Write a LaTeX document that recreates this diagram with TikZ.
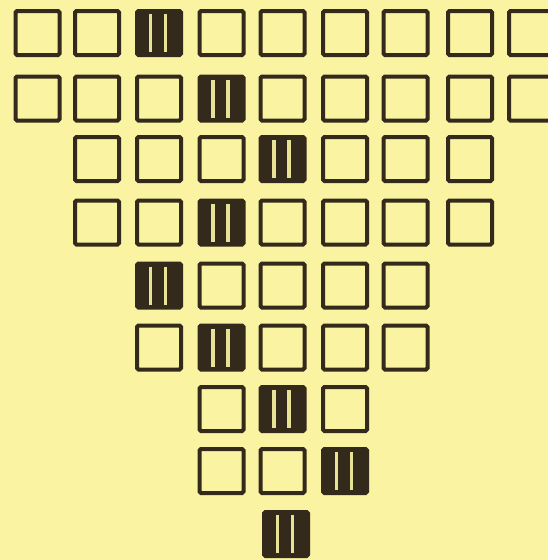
\documentclass[tikz,border=0pt]{standalone}
\definecolor{bgyellow}{RGB}{250,243,162}
\definecolor{inkdark}{RGB}{52,42,28}
\definecolor{slitcol}{RGB}{232,226,150}
\begin{document}
\begin{tikzpicture}[x=1pt,y=-1pt,
  opensq/.style={draw=inkdark, line width=4pt, rounded corners=1.5pt, minimum size=44pt, inner sep=0pt, fill=none},
  darksq/.style={draw=inkdark, line width=4pt, rounded corners=1.5pt, fill=inkdark, minimum size=44pt, inner sep=0pt,
    path picture={
      \draw[slitcol, line width=3.2pt] ([xshift=-8.5pt,yshift=-3pt]path picture bounding box.north) -- ([xshift=-8.5pt,yshift=3pt]path picture bounding box.south);
      \draw[slitcol, line width=3.2pt] ([xshift=6.5pt,yshift=-3pt]path picture bounding box.north) -- ([xshift=6.5pt,yshift=3pt]path picture bounding box.south);
    }}]
\fill[bgyellow] (0,0) rectangle (548,560);
\useasboundingbox (0,0) rectangle (548,560);
\begin{scope}
\clip (0,0) rectangle (548,560);
% column centres
\def\cx#1{\ifcase#1 37.5\or 97\or 159\or 221.5\or 282.5\or 345\or 405.5\or 470\or 531\fi}
% rows: index / y / first col / last col / dark col
\foreach \r/\y/\a/\b/\d in {0/33/0/8/2, 1/98.5/0/8/3, 2/159/1/7/4, 3/222.5/1/7/3, 4/285.5/2/6/2, 5/347.5/2/6/3, 6/409/3/5/4, 7/471/3/5/5}{
  \foreach \c in {\a,...,\b}{
    \ifnum\c=\d
      \node[darksq] (s-\r-\c) at (\cx{\c},\y) {};
    \else
      \node[opensq] (s-\r-\c) at (\cx{\c},\y) {};
    \fi
  }
}
\node[darksq] (s-8-4) at (286,534) {};
\end{scope}
\end{tikzpicture}
\end{document}
